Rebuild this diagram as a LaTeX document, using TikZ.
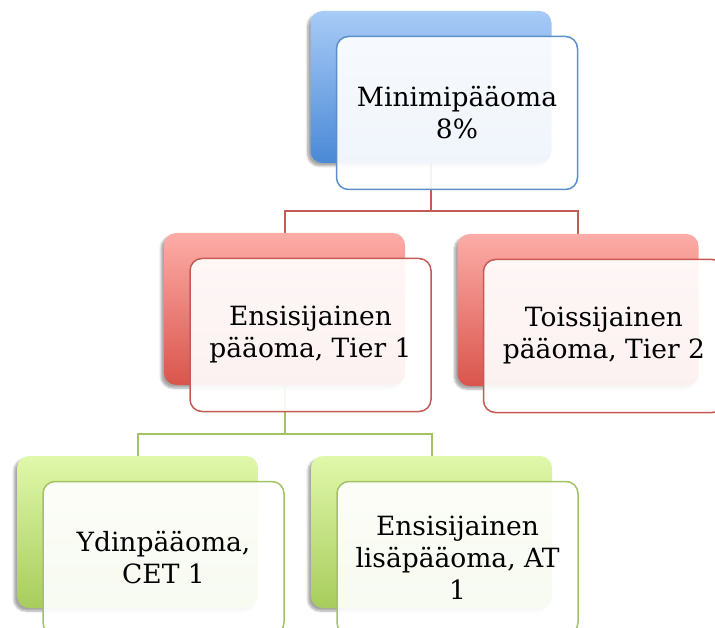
\documentclass[tikz,border=0pt]{standalone}
\usepackage{fontspec}
\setmainfont{DejaVu Serif}
\usetikzlibrary{calc,shadows.blur}
\pgfdeclarelayer{bg}
\pgfsetlayers{bg,main}
\definecolor{blueline}{HTML}{5B8FC9}
\definecolor{bluetop}{HTML}{A8CBF7}
\definecolor{bluebot}{HTML}{4A89D6}
\definecolor{redline}{HTML}{C55A55}
\definecolor{redtop}{HTML}{FDACA7}
\definecolor{redbot}{HTML}{D9554C}
\definecolor{greenline}{HTML}{A3C264}
\definecolor{greentop}{HTML}{E0F8AA}
\definecolor{greenbot}{HTML}{A8CC5C}
\begin{document}
\begin{tikzpicture}[x=1pt, y=-1pt,
	back/.style={rounded corners=12pt, minimum width=241pt, minimum height=152pt, inner sep=0pt,
		blur shadow={shadow xshift=-3pt, shadow yshift=-3pt, shadow blur steps=6, shadow opacity=35}},
	front/.style={rounded corners=12pt, minimum width=241pt, minimum height=153pt, inner sep=0pt,
		line width=1.5pt, fill=white, fill opacity=0.92, text opacity=1, align=center,
		font=\fontsize{26.5}{32}\selectfont},
	link/.style={line width=2pt}]
			\useasboundingbox (0,0) rectangle (715,628);
			% back boxes
			\node[back, top color=bluetop, bottom color=bluebot] (min) at (431,87) {};
			\node[back, top color=redtop, bottom color=redbot] (t1) at (284.5,309) {};
			\node[back, top color=redtop, bottom color=redbot] (t2) at (578,310) {};
			\node[back, top color=greentop, bottom color=greenbot] (cet) at (137.5,532) {};
			\node[back, top color=greentop, bottom color=greenbot] (at) at (431.5,532) {};
			% connectors
			\coordinate (j1) at ($(min.south)+(0,48)$);
			\coordinate (j2) at ($(t1.south)+(0,49)$);
			\begin{pgfonlayer}{bg}
			\draw[link, redline] (min.south) -- (min.south |- j1) -| (t1.north);
			\draw[link, redline] (min.south |- j1) -| (t2.north);
			\draw[link, greenline] (t1.south) -- (t1.south |- j2) -| (cet.north);
			\draw[link, greenline] (t1.south |- j2) -| (at.north);
			\end{pgfonlayer}
			% front boxes
			\node[front, draw=blueline] (minF) at ([shift={(26,26)}]min) {Minimipääoma\\8\%};
			\node[front, draw=redline] (t1F) at ([shift={(26,26)}]t1) {Ensisijainen\\pääoma, Tier 1};
			\node[front, draw=redline] (t2F) at ([shift={(26,26)}]t2) {Toissijainen\\pääoma, Tier 2};
			\node[front, draw=greenline] (cetF) at ([shift={(26,26)}]cet) {Ydinpääoma,\\CET 1};
			\node[front, draw=greenline] (atF) at ([shift={(26,26)}]at) {Ensisijainen\\lisäpääoma, AT\\1};
		\end{tikzpicture}
\end{document}
